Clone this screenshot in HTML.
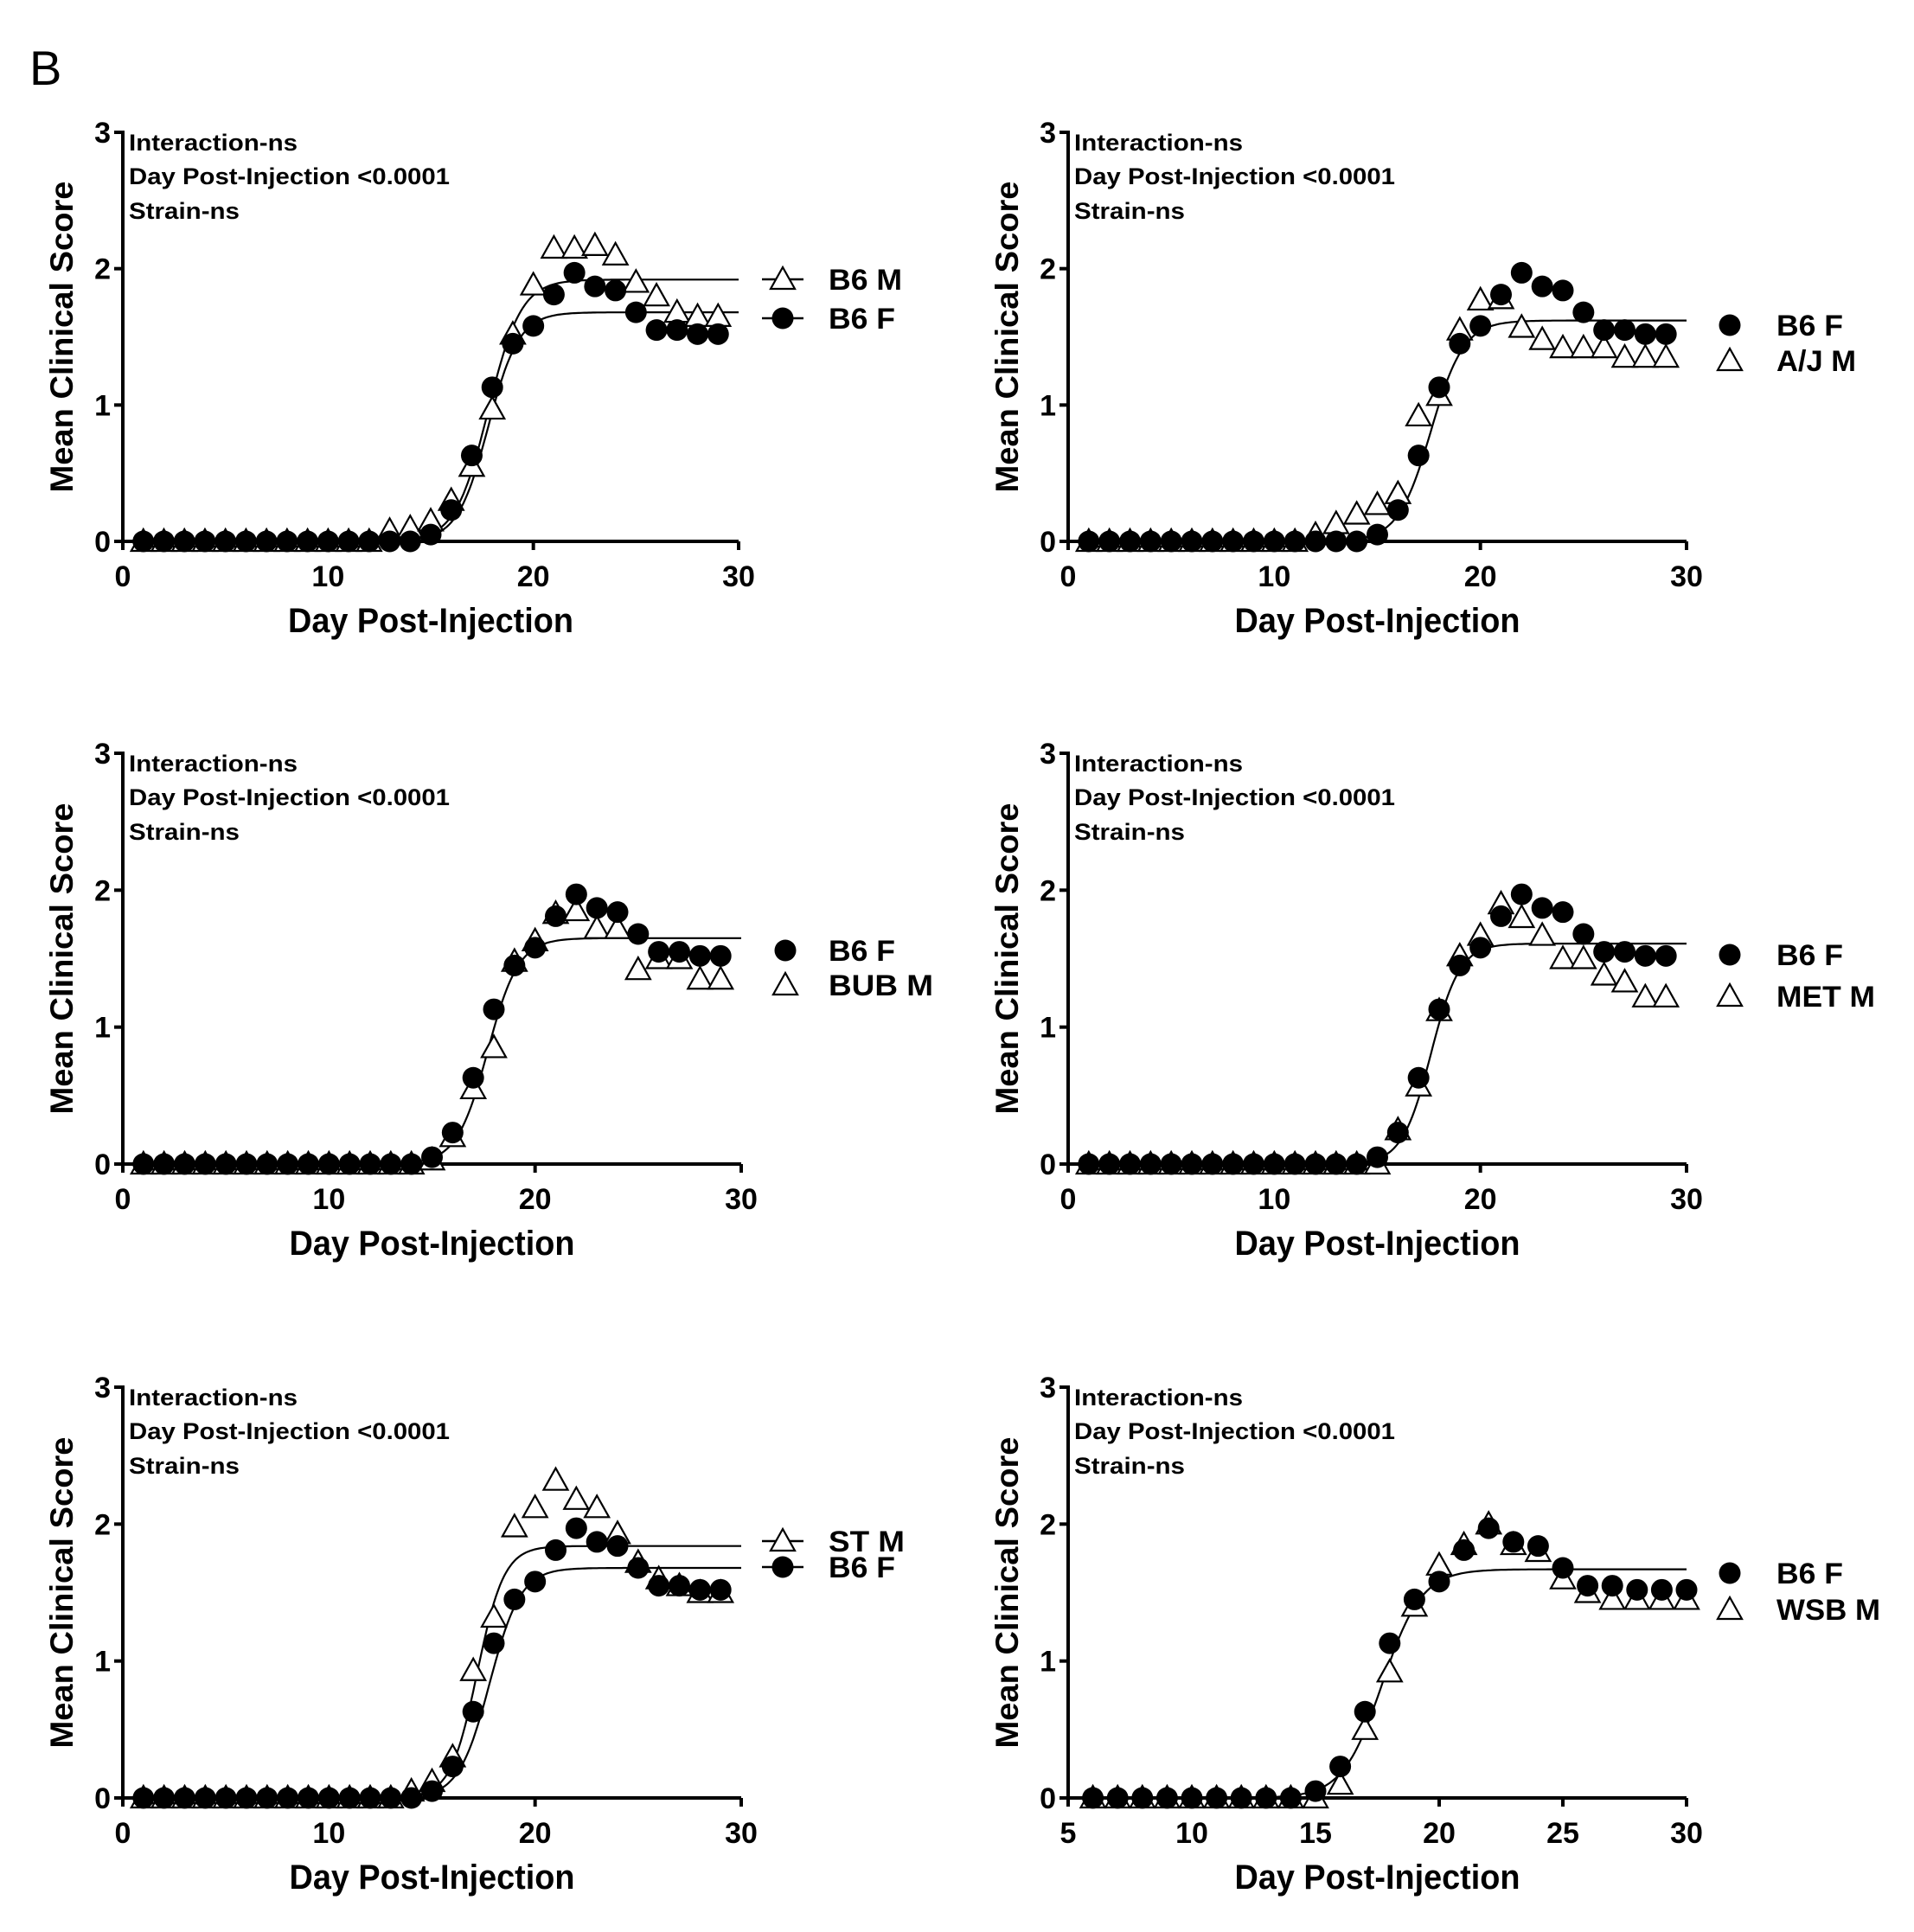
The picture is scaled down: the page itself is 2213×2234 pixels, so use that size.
<!DOCTYPE html>
<html><head><meta charset="utf-8"><style>
html,body{margin:0;padding:0;background:#fff;}
svg{display:block;font-family:"Liberation Sans",Arial,sans-serif;font-weight:bold;}
</style></head><body>
<svg id="fig" width="2213" height="2234" viewBox="0 0 2213 2234" xmlns="http://www.w3.org/2000/svg">
<text x="34" y="98" font-size="56" font-weight="normal">B</text>
</svg>
<script>
// shared control series
const b6fDays = [1,2,3,4,5,6,7,8,9,10,11,12,13,14,15,16,17,18,19,20,21,22,23,24,25,26,27,28,29];
const b6fVals = [0,0,0,0,0,0,0,0,0,0,0,0,0,0,0.05,0.23,0.63,1.13,1.45,1.58,1.81,1.97,1.87,1.84,1.68,1.55,1.55,1.52,1.52];
const b6mVals = [0,0,0,0,0,0,0,0,0,0,0,0,0.08,0.1,0.15,0.3,0.55,0.97,1.52,1.88,2.15,2.15,2.17,2.1,1.9,1.8,1.68,1.65,1.65];
const ajVals  = [0,0,0,0,0,0,0,0,0,0,0,0.05,0.13,0.2,0.27,0.35,0.92,1.07,1.55,1.77,1.78,1.57,1.48,1.42,1.42,1.42,1.35,1.35,1.35];
const bubVals = [0,0,0,0,0,0,0,0,0,0,0,0,0,0,0.03,0.2,0.55,0.85,1.48,1.63,1.83,1.85,1.72,1.72,1.42,1.5,1.5,1.35,1.35];
const metVals = [0,0,0,0,0,0,0,0,0,0,0,0,0,0,0,0.25,0.57,1.12,1.52,1.67,1.9,1.8,1.67,1.5,1.5,1.38,1.33,1.22,1.22];
const stVals  = [0,0,0,0,0,0,0,0,0,0,0,0,0,0.05,0.12,0.3,0.93,1.32,1.98,2.12,2.32,2.18,2.12,1.93,1.72,1.6,1.55,1.5,1.5];
const wsbDays = [6,7,8,9,10,11,12,13,14,15,16,17,18,19,20,21,22,23,24,25,26,27,28,29,30];
const b6fWsbVals = [0,0,0,0,0,0,0,0,0,0.05,0.23,0.63,1.13,1.45,1.58,1.81,1.97,1.87,1.84,1.68,1.55,1.55,1.52,1.52,1.52];
const wsbVals = [0,0,0,0,0,0,0,0,0,0,0.1,0.5,0.92,1.4,1.7,1.85,2.0,1.85,1.8,1.6,1.5,1.45,1.45,1.45,1.45];
// fitted sigmoid params [top, x50, slope]
const fitB6F = [1.68,17.8,0.75];
const fitB6M = [1.92,17.8,0.8];
const fitAJ = [1.62,17.6,0.8];
const fitBUB = [1.65,17.7,0.75];
const fitMET = [1.61,17.6,0.7];
const fitST = [1.84,17.2,0.65];
const fitWSB = [1.67,17.7,0.8];
const yTicks = [0,1,2,3];
const xTicksA = [0,10,20,30];
const xTicksB = [5,10,15,20,25,30];

const NS="http://www.w3.org/2000/svg";
const svg=document.getElementById('fig');
function mk(tag,attrs,parent){const e=document.createElementNS(NS,tag);for(const k in attrs)e.setAttribute(k,attrs[k]);(parent||svg).appendChild(e);return e;}
function txt(parent,x,y,s,size,anchor,len){const t=mk('text',{x:x,y:y,'font-size':size,'text-anchor':anchor||'start'},parent);if(len){t.setAttribute('textLength',len);t.setAttribute('lengthAdjust','spacingAndGlyphs');}t.textContent=s;return t;}

const panels=[
 {name:'panel-b6m',x0:142,x1:854,y3:153,y0:626,xmin:0,xmax:30,xt:xTicksA,
  series:[{n:'B6 M',d:b6fDays,v:b6mVals,m:'t'},{n:'B6 F',d:b6fDays,v:b6fVals,m:'c'}],
  curves:[fitB6M,fitB6F],legend:{lx:905,tx:958,ys:[323,368],order:['B6 M','B6 F'],lines:true,lens:[85,77]}},
 {name:'panel-aj',x0:1235,x1:1950,y3:153,y0:626,xmin:0,xmax:30,xt:xTicksA,
  series:[{n:'A/J M',d:b6fDays,v:ajVals,m:'t'},{n:'B6 F',d:b6fDays,v:b6fVals,m:'c'}],
  curves:[fitAJ],legend:{lx:2000,tx:2054,ys:[376,417],order:['B6 F','A/J M'],lines:false,lens:[77,92]}},
 {name:'panel-bub',x0:142,x1:857,y3:871,y0:1346,xmin:0,xmax:30,xt:xTicksA,
  series:[{n:'BUB M',d:b6fDays,v:bubVals,m:'t'},{n:'B6 F',d:b6fDays,v:b6fVals,m:'c'}],
  curves:[fitBUB],legend:{lx:908,tx:958,ys:[1099,1139],order:['B6 F','BUB M'],lines:false,lens:[77,121]}},
 {name:'panel-met',x0:1235,x1:1950,y3:871,y0:1346,xmin:0,xmax:30,xt:xTicksA,
  series:[{n:'MET M',d:b6fDays,v:metVals,m:'t'},{n:'B6 F',d:b6fDays,v:b6fVals,m:'c'}],
  curves:[fitMET],legend:{lx:2000,tx:2054,ys:[1104,1152],order:['B6 F','MET M'],lines:false,lens:[77,114]}},
 {name:'panel-st',x0:142,x1:857,y3:1604,y0:2079,xmin:0,xmax:30,xt:xTicksA,
  series:[{n:'ST M',d:b6fDays,v:stVals,m:'t'},{n:'B6 F',d:b6fDays,v:b6fVals,m:'c'}],
  curves:[fitST,fitB6F],legend:{lx:905,tx:958,ys:[1782,1812],order:['ST M','B6 F'],lines:true,lens:[88,77]}},
 {name:'panel-wsb',x0:1235,x1:1950,y3:1604,y0:2079,xmin:5,xmax:30,xt:xTicksB,
  series:[{n:'WSB M',d:wsbDays,v:wsbVals,m:'t'},{n:'B6 F',d:wsbDays,v:b6fWsbVals,m:'c'}],
  curves:[fitWSB],legend:{lx:2000,tx:2054,ys:[1819,1861],order:['B6 F','WSB M'],lines:false,lens:[77,120]}}
];

function circle(g,x,y){const c=mk('circle',{cx:x,cy:y,r:12.5,fill:'#000'},g);return c;}
function tri(g,x,y){const p=mk('polygon',{points:`${x},${y-14} ${x-14},${y+11} ${x+14},${y+11}`,fill:'#fff',stroke:'#000','stroke-width':2.2},g);return p;}

panels.forEach(P=>{
  const g=mk('g',{});
  
  
  const sx=d=>P.x0+(d-P.xmin)/(P.xmax-P.xmin)*(P.x1-P.x0);
  const sy=v=>P.y0-v/3*(P.y0-P.y3);
  const ax=mk('g',{},g);
  
  
  mk('line',{x1:P.x0,y1:P.y3-2,x2:P.x0,y2:P.y0+2,stroke:'#000','stroke-width':4},ax);
  mk('line',{x1:P.x0-2,y1:P.y0,x2:P.x1,y2:P.y0,stroke:'#000','stroke-width':4},ax);
  yTicks.forEach(t=>{
    mk('line',{x1:P.x0-10,y1:sy(t),x2:P.x0,y2:sy(t),stroke:'#000','stroke-width':4},ax);
    const l=txt(ax,P.x0-14,sy(t)+12,String(t),34,'end');
    
    
  });
  P.xt.forEach(t=>{
    mk('line',{x1:sx(t),y1:P.y0,x2:sx(t),y2:P.y0+10,stroke:'#000','stroke-width':4},ax);
    const l=txt(ax,sx(t),P.y0+52,String(t),34,'middle');
    
    
  });
  const xt=txt(g,(P.x0+P.x1)/2,P.y0+105,'Day Post-Injection',40,'middle',330);
  
  
  const yx=P.x0-70, yy=(P.y0+P.y3)/2;
  const yt=txt(g,0,0,'Mean Clinical Score',37,'middle',360);
  yt.setAttribute('transform',`translate(${yx+12},${yy}) rotate(-90)`);
  
  
  const an=mk('g',{},g);
  
  
  txt(an,P.x0+7,P.y3+21,'Interaction-ns',27,'start',195);
  txt(an,P.x0+7,P.y3+60,'Day Post-Injection <0.0001',27,'start',371);
  txt(an,P.x0+7,P.y3+100,'Strain-ns',27,'start',128);
  P.curves.forEach(f=>{
    let d='';
    for(let x=P.xmin;x<=P.xmax+1e-9;x+=0.1){const v=f[0]/(1+Math.exp((f[1]-x)/f[2]));d+=(d?'L':'M')+sx(x).toFixed(1)+','+sy(v).toFixed(1);}
    const c=mk('path',{d:d,fill:'none',stroke:'#000','stroke-width':2.2},g);
    
    
  });
  P.series.forEach(S=>{
    const sg=mk('g',{},g);
    
    
    S.d.forEach((d,i)=>{
      const el=S.m==='c'?circle(sg,sx(d),sy(S.v[i])):tri(sg,sx(d),sy(S.v[i]));
      
      
    });
  });
  const L=P.legend;
  const lg=mk('g',{},g);
  
  
  L.order.forEach((n,i)=>{
    const eg=mk('g',{},lg);
    
    
    const y=L.ys[i];
    const isT=P.series.find(s=>s.n===n).m==='t';
    if(L.lines) mk('line',{x1:L.lx-24,y1:y,x2:L.lx+24,y2:y,stroke:'#000','stroke-width':2.5},eg);
    if(isT) tri(eg,L.lx,y); else circle(eg,L.lx,y);
    txt(eg,L.tx,y+12,n,34,'start',L.lens[i]);
  });
});
</script>
</body></html>
